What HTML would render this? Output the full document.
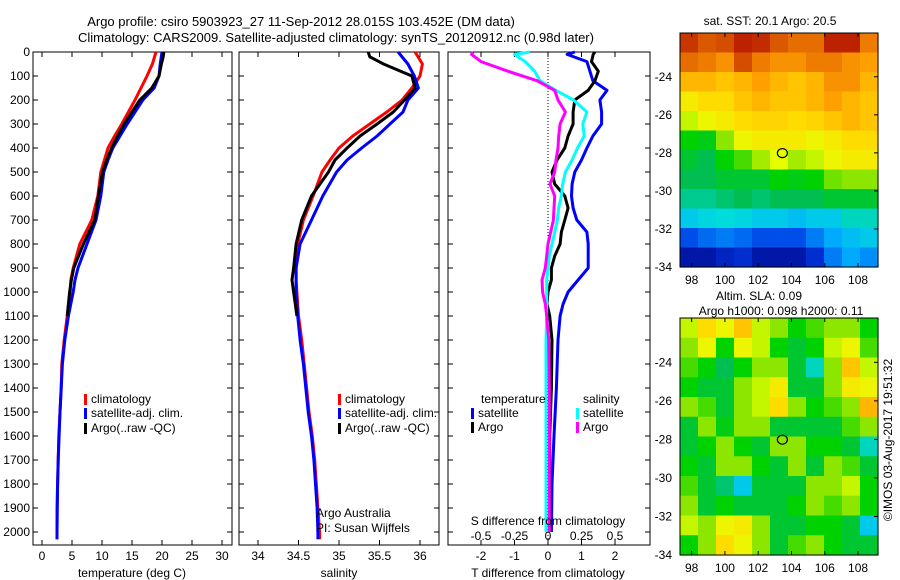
<!DOCTYPE html>
<html><head><meta charset="utf-8">
<style>
html,body{margin:0;padding:0;background:#fff;}
svg{display:block;font-family:"Liberation Sans",sans-serif;}
text{fill:#000;}
</style></head>
<body>
<svg id="c" width="900" height="580" viewBox="0 0 900 580">
<text x="301" y="26" font-size="13" text-anchor="middle">Argo profile: csiro 5903923_27 11-Sep-2012 28.015S 103.452E (DM data)</text>
<text x="336" y="42" font-size="13" text-anchor="middle">Climatology: CARS2009. Satellite-adjusted climatology: synTS_20120912.nc (0.98d later)</text>
</svg>
<script>
// ---------- data ----------
const depthsT = [0,50,100,150,200,250,300,350,400,450,500,600,700,800,900,950,1000,1100,1200,1300,1400,1500,1600,1700,1800,1900,2000,2030];
const tempClim = [19,18.4,17.5,16.5,15.5,14.4,13.3,12.1,11,10.4,9.8,9.3,8.3,6.3,5.2,4.8,4.7,4.2,3.7,3.3,3.2,3,2.8,2.7,2.6,2.5,2.5,2.5];
const tempSat  = [20,19.7,19.5,18.7,16.8,15.5,14.2,13,11.8,11,10.3,9.8,9,7.5,6,5.5,5.2,4.4,3.8,3.4,3.2,3,2.85,2.7,2.6,2.55,2.5,2.5];
const depthsArgo = [0,20,50,100,150,200,250,300,350,400,450,500,600,700,800,900,950,1000,1050,1100];
const tempArgo = [20.3,20.2,19.9,19.5,18.3,16.3,15,13.7,12.6,11.6,10.8,10.1,9.4,8.8,6.9,5.3,4.9,4.6,4.4,4.2];
const salClim  = [35.94,36.03,36,35.9,35.78,35.59,35.38,35.17,35,34.89,34.79,34.68,34.56,34.49,34.47,34.47,34.48,34.5,34.54,34.57,34.6,34.63,34.67,34.7,34.72,34.74,34.76,34.76];
const salSat   = [35.73,35.85,35.93,35.98,35.85,35.79,35.63,35.47,35.28,35.1,34.97,34.8,34.66,34.52,34.47,34.47,34.47,34.49,34.52,34.56,34.59,34.62,34.66,34.69,34.71,34.73,34.74,34.74];
const salArgo  = [35.36,35.38,35.55,35.9,35.94,35.81,35.67,35.47,35.26,35.1,34.95,34.87,34.66,34.54,34.47,34.44,34.42,34.44,34.46,34.48];
const depthsD = [0,10,40,80,120,160,200,250,300,350,400,450,500,550,600,650,700,750,800,850,900,950,1000,1050,1100,1200,1400,1600,1800,2000];
const dTsat  = [0.8,0.57,1.16,1.25,1.34,1.76,1.55,1.6,1.6,1.34,1.16,1,0.8,0.72,0.7,0.75,0.86,1.16,1.2,1.2,1.2,0.9,0.6,0.45,0.36,0.3,0.25,0.18,0.12,0.1];
const dTargo = [1.4,1.35,1.3,1.5,1.4,1.2,0.8,0.75,0.75,0.6,0.5,0.27,0.12,0.2,0.5,0.6,0.5,0.4,0.36,0.2,0.1,0.1,0,-0.03,0.05,0.12,0.1,0.05,0.05,0.05];
const dSsat  = [-0.134,-0.25,-0.17,-0.1,-0.06,0.06,0.19,0.29,0.26,0.27,0.22,0.18,0.13,0.11,0.1,0.08,0.07,0.05,0.03,0.01,0,-0.01,-0.01,-0.01,-0.01,-0.015,-0.015,-0.015,-0.015,-0.015];
const dSargo = [-0.56,-0.57,-0.5,-0.3,-0.08,0.05,0.075,0.13,0.09,0.08,0.075,0.06,0.05,0.015,0.05,0.045,0.04,0.02,0,-0.01,-0.02,-0.045,-0.04,-0.02,-0.01,0.005,0.01,0.01,0.01,0.01];
const depthTicks = [0,100,200,300,400,500,600,700,800,900,1000,1100,1200,1300,1400,1500,1600,1700,1800,1900,2000];
const tempTicks = [0,5,10,15,20,25,30];
const salTicks = [34,34.5,35,35.5,36];
const salTickLabels = ["34","34.5","35","35.5","36"];
const tdTicks = [-2,-1,0,1,2];
const sdTicks = [-0.5,-0.25,0,0.25,0.5];
const sdTickLabels = ["-0.5","-0.25","0","0.25","0.5"];
const lonTicks = [98,100,102,104,106,108];
const latTicks = [-24,-26,-28,-30,-32,-34];
const sstGrid = [
[0.95,0.92,0.93,0.97,0.96,0.92,0.9,0.9,0.97,0.97,0.88],
[0.9,0.88,0.85,0.93,0.88,0.85,0.85,0.88,0.88,0.85,0.83],
[0.8,0.8,0.78,0.8,0.83,0.8,0.78,0.8,0.85,0.85,0.8],
[0.72,0.75,0.75,0.78,0.8,0.78,0.78,0.8,0.83,0.8,0.78],
[0.65,0.7,0.72,0.75,0.76,0.76,0.75,0.76,0.78,0.8,0.78],
[0.5,0.48,0.6,0.7,0.72,0.72,0.72,0.7,0.72,0.75,0.75],
[0.45,0.42,0.5,0.55,0.62,0.68,0.62,0.65,0.7,0.72,0.72],
[0.42,0.42,0.45,0.45,0.45,0.5,0.48,0.5,0.58,0.6,0.6],
[0.38,0.38,0.4,0.42,0.4,0.42,0.42,0.42,0.45,0.45,0.45],
[0.3,0.32,0.33,0.32,0.3,0.3,0.28,0.3,0.3,0.35,0.35],
[0.15,0.18,0.2,0.18,0.15,0.15,0.15,0.2,0.25,0.28,0.3],
[0.05,0.05,0.08,0.1,0.05,0.05,0.05,0.1,0.2,0.25,0.22]];
const slaGrid = [
[0.65,0.75,0.7,0.78,0.65,0.6,0.5,0.55,0.6,0.6,0.5],
[0.6,0.7,0.5,0.7,0.65,0.5,0.45,0.5,0.65,0.7,0.55],
[0.55,0.5,0.42,0.5,0.6,0.6,0.45,0.35,0.6,0.78,0.65],
[0.5,0.45,0.45,0.6,0.65,0.72,0.45,0.45,0.6,0.72,0.7],
[0.6,0.55,0.45,0.6,0.65,0.75,0.6,0.5,0.55,0.6,0.8],
[0.45,0.6,0.48,0.6,0.6,0.45,0.45,0.45,0.45,0.55,0.6],
[0.45,0.5,0.6,0.5,0.45,0.6,0.6,0.5,0.5,0.45,0.35],
[0.5,0.45,0.6,0.6,0.5,0.45,0.6,0.45,0.6,0.55,0.45],
[0.55,0.45,0.4,0.3,0.45,0.45,0.45,0.6,0.6,0.65,0.5],
[0.6,0.45,0.5,0.45,0.45,0.45,0.5,0.6,0.55,0.6,0.5],
[0.65,0.6,0.7,0.72,0.6,0.45,0.45,0.5,0.5,0.45,0.3],
[0.5,0.6,0.75,0.7,0.6,0.45,0.55,0.6,0.5,0.45,0.45]];
const argoLon = 103.452, argoLat = -28.015;

// ---------- helpers ----------
const svg = document.getElementById('c');
const NS = 'http://www.w3.org/2000/svg';
function mk(tag, attrs, parent){const e=document.createElementNS(NS,tag);for(const k in attrs)e.setAttribute(k,attrs[k]);(parent||svg).appendChild(e);return e;}
function txt(x,y,s,size,anchor,parent){const t=mk('text',{x:x,y:y,'font-size':size||12,'text-anchor':anchor||'start'},parent);t.textContent=s;return t;}
const Y0=52, PXM=0.24, BOT=545;
const yD = d => Y0 + d*PXM;
const xT = v => 42 + v*6;
const xS = v => 258 + (v-34)*81;
const xTD = v => 548 + v*33.5;
const xSD = v => 548 + v*134;

function frame(x0,x1,name){
  const r=mk('rect',{x:x0,y:Y0,width:x1-x0,height:BOT-Y0,fill:'none',stroke:'#000','stroke-width':1});
  
  
}
function line(xs,ds,fx,color,name,w){
  const p=mk('polyline',{points:xs.map((v,i)=>fx(v).toFixed(1)+','+yD(ds[i]).toFixed(1)).join(' '),fill:'none',stroke:color,'stroke-width':w||3,'stroke-linejoin':'round'});
  
  
}
function depthTicksFor(x0,x1,labels){
  depthTicks.forEach(d=>{
    const y=yD(d);
    mk('line',{x1:x0,y1:y,x2:x0+5,y2:y,stroke:'#000'});
    mk('line',{x1:x1-5,y1:y,x2:x1,y2:y,stroke:'#000'});
    if(labels){const t=txt(30,y+4,String(d),12,'end');
      
      }
  });
}
function xTicks(vals,labs,fx,ylab){
  vals.forEach((v,i)=>{const x=fx(v);
    mk('line',{x1:x,y1:BOT,x2:x,y2:BOT-5,stroke:'#000'});
    mk('line',{x1:x,y1:Y0,x2:x,y2:Y0+5,stroke:'#000'});
    const t=txt(x,ylab,labs[i],12,'middle');
    
    
  });
}
function legendItem(mx,y,color,label,name){
  const r=mk('rect',{x:mx,y:y-9,width:3,height:11,fill:color});
  
  
  const t=txt(mx+7,y,label,12);
  
  
}

// ---------- panel 1: temperature ----------
frame(33,232,'temperature-panel');
depthTicksFor(33,232,true);
xTicks(tempTicks,tempTicks.map(String),xT,560);
line(tempClim,depthsT,xT,'#ff0000','temp-climatology-line');
line(tempSat,depthsT,xT,'#0000ff','temp-satellite-line');
line(tempArgo,depthsArgo,xT,'#000000','temp-argo-line');
txt(132,577,'temperature (deg C)',12,'middle');
legendItem(84,403,'#ff0000','climatology','legend-climatology');
legendItem(84,417,'#0000ff','satellite-adj. clim.','legend-satellite');
legendItem(84,432,'#000000','Argo(..raw -QC)','legend-argo');

// ---------- panel 2: salinity ----------
frame(239,439,'salinity-panel');
depthTicksFor(239,439,false);
xTicks(salTicks,salTickLabels,xS,560);
line(salClim,depthsT,xS,'#ff0000','sal-climatology-line');
line(salSat,depthsT,xS,'#0000ff','sal-satellite-line');
line(salArgo,depthsArgo,xS,'#000000','sal-argo-line');
txt(339,577,'salinity',12,'middle');
legendItem(338,403,'#ff0000','climatology','legend2-climatology');
legendItem(338,417,'#0000ff','satellite-adj. clim.','legend2-satellite');
legendItem(338,432,'#000000','Argo(..raw -QC)','legend2-argo');
txt(316,517,'Argo Australia',12);
txt(316,532,'PI: Susan Wijffels',12);

// ---------- panel 3: differences ----------
frame(448,650,'difference-panel');
depthTicksFor(448,650,false);
xTicks(tdTicks,tdTicks.map(String),xTD,560);
sdTicks.forEach((v,i)=>{const t=txt(xSD(v),540,sdTickLabels[i],12,'middle');
  
  });
mk('line',{x1:xTD(0),y1:Y0,x2:xTD(0),y2:BOT,stroke:'#000','stroke-dasharray':'1,2'});
line(dTsat,depthsD,xTD,'#0000ff','tdiff-satellite-line');
line(dTargo,depthsD,xTD,'#000000','tdiff-argo-line');
line(dSsat,depthsD,xSD,'#00ffff','sdiff-satellite-line');
line(dSargo,depthsD,xSD,'#ff00ff','sdiff-argo-line');
txt(548,525,'S difference from climatology',12,'middle');
txt(548,577,'T difference from climatology',12,'middle');
txt(481,403,'temperature',12);
txt(583,403,'salinity',12);
legendItem(471,417,'#0000ff','satellite','legend3-t-satellite');
legendItem(471,431,'#000000','Argo','legend3-t-argo');
legendItem(576,417,'#00ffff','satellite','legend3-s-satellite');
legendItem(576,431,'#ff00ff','Argo','legend3-s-argo');

// ---------- maps ----------
function jet(v){
  const stops=[[0,[0,0,130]],[0.13,[0,60,230]],[0.25,[0,170,255]],[0.33,[0,220,220]],[0.42,[0,190,80]],[0.5,[0,210,0]],[0.6,[140,230,0]],[0.68,[230,255,0]],[0.75,[255,220,0]],[0.83,[255,160,0]],[0.9,[230,110,0]],[1,[170,0,0]]];
  for(let i=1;i<stops.length;i++){if(v<=stops[i][0]){const a=stops[i-1],b=stops[i],f=(v-a[0])/(b[0]-a[0]);
    return 'rgb('+a[1].map((c,k)=>Math.round(c+(b[1][k]-c)*f)).join(',')+')';}}
  return 'rgb(170,0,0)';
}
function map(grid,top,bot,name){
  const L=680,R=878,lon0=97.3,lon1=109.2,lat0=-21.7,lat1=-34;
  const xL = lon => L + (lon-lon0)/(lon1-lon0)*(R-L);
  const yL = lat => top + (lat-lat0)/(lat1-lat0)*(bot-top);
  const g=mk('g',{});
  
  
  const nr=grid.length,nc=grid[0].length;
  const cw=(R-L)/nc, ch=(bot-top)/nr;
  grid.forEach((row,r)=>row.forEach((v,c)=>{
    const cell=mk('rect',{x:(L+c*cw).toFixed(2),y:(top+r*ch).toFixed(2),width:(cw+0.6).toFixed(2),height:(ch+0.6).toFixed(2),fill:jet(v)},g);
    
    
  }));
  mk('rect',{x:L,y:top,width:R-L,height:bot-top,fill:'none',stroke:'#000'},g);
  lonTicks.forEach(l=>{const x=xL(l);mk('line',{x1:x,y1:top,x2:x,y2:top+4,stroke:'#000'},g);mk('line',{x1:x,y1:bot,x2:x,y2:bot-4,stroke:'#000'},g);
    txt(x,bot+17,String(l),12,'middle',g);});
  latTicks.forEach(l=>{const y=yL(l);mk('line',{x1:R,y1:y,x2:R-4,y2:y,stroke:'#000'},g);txt(672,y+4,String(l),12,'end',g);});
  const m=mk('ellipse',{cx:xL(argoLon),cy:yL(argoLat),rx:5,ry:4.5,fill:'none',stroke:'#000','stroke-width':1.2},g);
  
  
}
map(sstGrid,33,267,'sst-map');
map(slaGrid,318,555,'sla-map');
txt(770,25,'sat. SST: 20.1 Argo: 20.5',12,'middle');
txt(759,300,'Altim. SLA: 0.09',12,'middle');
txt(781,315,'Argo h1000: 0.098 h2000: 0.11',12,'middle');
const cp=txt(0,0,'©IMOS 03-Aug-2017 19:51:32',12,'middle');
cp.setAttribute('transform','translate(892,440) rotate(-90)');


</script>
</body></html>
